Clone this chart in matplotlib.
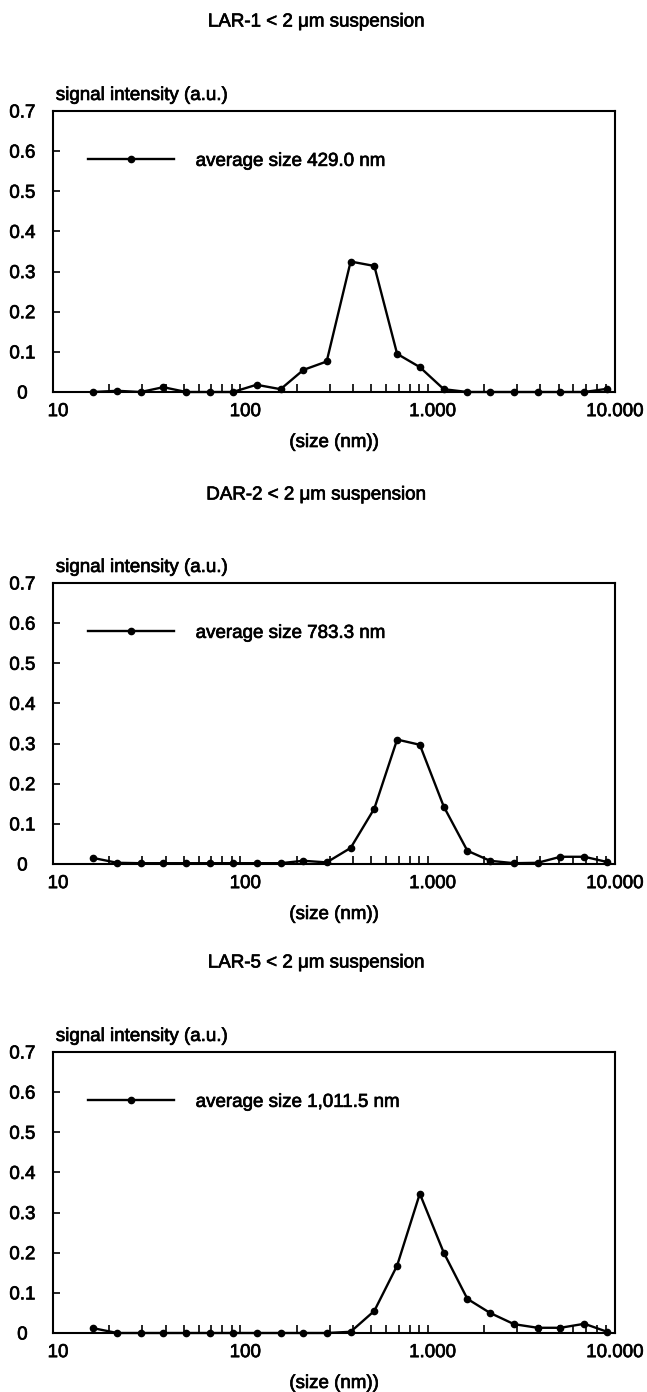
import matplotlib
matplotlib.use("Agg")
import matplotlib.pyplot as plt
import matplotlib.patheffects as pe
from matplotlib.transforms import ScaledTranslation
from matplotlib.ticker import FixedLocator, FixedFormatter, LogLocator, NullFormatter

plt.rcParams['font.family'] = ['Liberation Sans', 'DejaVu Sans']
plt.rcParams['font.size'] = 13.5

# particle size classes (nm)
size_nm = [16.4, 22, 29.4, 38.8, 51.4, 69, 91.3, 122, 164, 217, 289, 388,
           519, 687, 908, 1219, 1629, 2153, 2891, 3864, 5113, 6867, 9080]

lar1 = [0, 0.003, 0, 0.012, 0, 0, 0, 0.018, 0.007, 0.055, 0.076, 0.325,
        0.314, 0.095, 0.062, 0.007, 0, 0, 0, 0, 0, 0, 0.008]
dar2 = [0.015, 0.003, 0.002, 0.002, 0.002, 0.002, 0.002, 0.002, 0.002, 0.008, 0.004, 0.04,
        0.138, 0.31, 0.297, 0.143, 0.033, 0.008, 0.002, 0.003, 0.018, 0.018, 0.005]
lar5 = [0.012, 0, 0, 0, 0, 0, 0, 0, 0, 0, 0, 0.003,
        0.055, 0.168, 0.347, 0.2, 0.085, 0.05, 0.022, 0.013, 0.013, 0.023, 0.003]

titles = ["LAR-1 < 2 \u03bcm suspension",
          "DAR-2 < 2 \u03bcm suspension",
          "LAR-5 < 2 \u03bcm suspension"]
legend_labels = ["average size 429.0 nm",
                 "average size 783.3 nm",
                 "average size 1,011.5 nm"]
series = [lar1, dar2, lar5]

y_ticks = [0, 0.1, 0.2, 0.3, 0.4, 0.5, 0.6, 0.7]
y_ticklabels = ["0", "0.1", "0.2", "0.3", "0.4", "0.5", "0.6", "0.7"]
x_ticks = [10, 100, 1000, 10000]
x_ticklabels = ["10", "100", "1.000", "10.000"]

W, H = 647, 1392
fig = plt.figure(figsize=(W / 100, H / 100), dpi=100)

# scanned print looks a bit heavy, thicken the text slightly
heavy = [pe.withStroke(linewidth=0.5, foreground='black')]

# pixel layout: top of each axes, axes height
tops = [111, 583, 1052]
ax_h = 281
left, right = 53, 615
title_y = [22, 495, 963]

for i in range(3):
    ax = fig.add_axes([left / W, (H - tops[i] - ax_h) / H, (right - left) / W, ax_h / H])
    ax.plot(size_nm, series[i], color='black', lw=1.7, marker='o', ms=4.5,
            label=legend_labels[i], clip_on=False, zorder=3)
    ax.set_xscale('log')
    ax.set_xlim(10, 10000)
    ax.set_ylim(0, 0.7)

    ax.xaxis.set_major_locator(FixedLocator(x_ticks))
    ax.xaxis.set_major_formatter(FixedFormatter(x_ticklabels))
    ax.xaxis.set_minor_locator(LogLocator(base=10, subs=range(2, 10)))
    ax.xaxis.set_minor_formatter(NullFormatter())
    ax.yaxis.set_major_locator(FixedLocator(y_ticks))
    ax.yaxis.set_major_formatter(FixedFormatter(y_ticklabels))

    ax.tick_params(axis='x', which='both', direction='in', length=6, width=1.2,
                   top=False, pad=8)
    ax.tick_params(axis='y', direction='in', length=5, width=1.2, right=False, pad=22)
    for lab in ax.get_yticklabels():
        lab.set_horizontalalignment('center')
        lab.set_path_effects(heavy)
    xlabs = ax.get_xticklabels()
    for j, lab in enumerate(xlabs):
        dx = 5 if j < len(xlabs) - 1 else 0
        lab.set_transform(lab.get_transform() + ScaledTranslation(dx / 100, 0, fig.dpi_scale_trans))
        lab.set_path_effects(heavy)

    for sp in ax.spines.values():
        sp.set_linewidth(1.5)

    xl = ax.set_xlabel("(size (nm))", labelpad=10)
    xl.set_path_effects(heavy)
    ax.text(0.005, 1.025, "signal intensity (a.u.)", transform=ax.transAxes,
            ha='left', va='bottom', path_effects=heavy)

    leg = ax.legend(loc='center left', bbox_to_anchor=(0.062, 0.821), frameon=False,
                    handlelength=4.6, handletextpad=1.15, borderpad=0, borderaxespad=0,
                    numpoints=1)
    for t in leg.get_texts():
        t.set_path_effects(heavy)

    fig.text(316 / W, 1 - title_y[i] / H, titles[i], ha='center', va='center',
             path_effects=heavy)

fig.savefig("out.png", dpi=100)
